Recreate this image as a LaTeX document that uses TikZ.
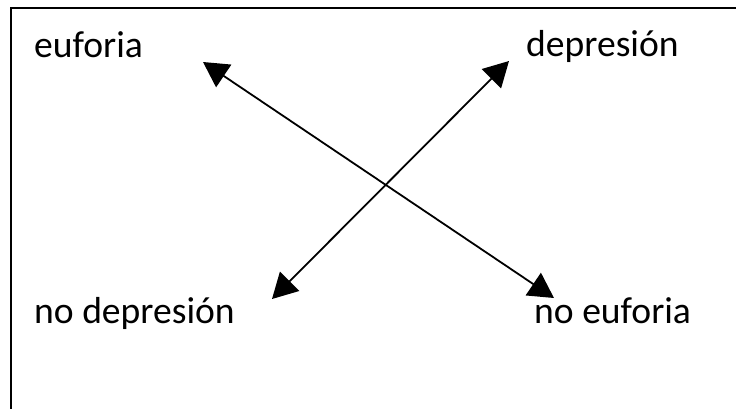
\documentclass[tikz,border=0pt]{standalone}
\usepackage{fontspec}
\setmainfont{Carlito}
\usetikzlibrary{arrows.meta}
\begin{document}
\begin{tikzpicture}[x=1pt,y=-1pt,
  lbl/.style={anchor=base west,inner sep=0pt,font=\fontsize{37.6}{40}\selectfont,text=black},
  conn/.style={line width=1.8pt,{Triangle[length=25pt,width=27pt]}-{Triangle[length=25pt,width=27pt]}},
  frame/.style={line width=2.4pt}]
\useasboundingbox (0,0) rectangle (736,408);
\fill[white] (0,0) rectangle (736,408);
\draw[frame] (11,410) -- (11,8) -- (740,8);
\node[lbl] (eu) at (34,57) {euforia};
\node[lbl] (de) at (526,56) {depresión};
\node[lbl] (nd) at (34,323) {no depresión};
\node[lbl] (ne) at (534,323) {no euforia};
\coordinate (a1) at (203,62);
\coordinate (a2) at (554,298);
\coordinate (b1) at (272,299);
\coordinate (b2) at (509,61);
\draw[conn] (a1) -- (a2);
\draw[conn] (b1) -- (b2);
\end{tikzpicture}
\end{document}
